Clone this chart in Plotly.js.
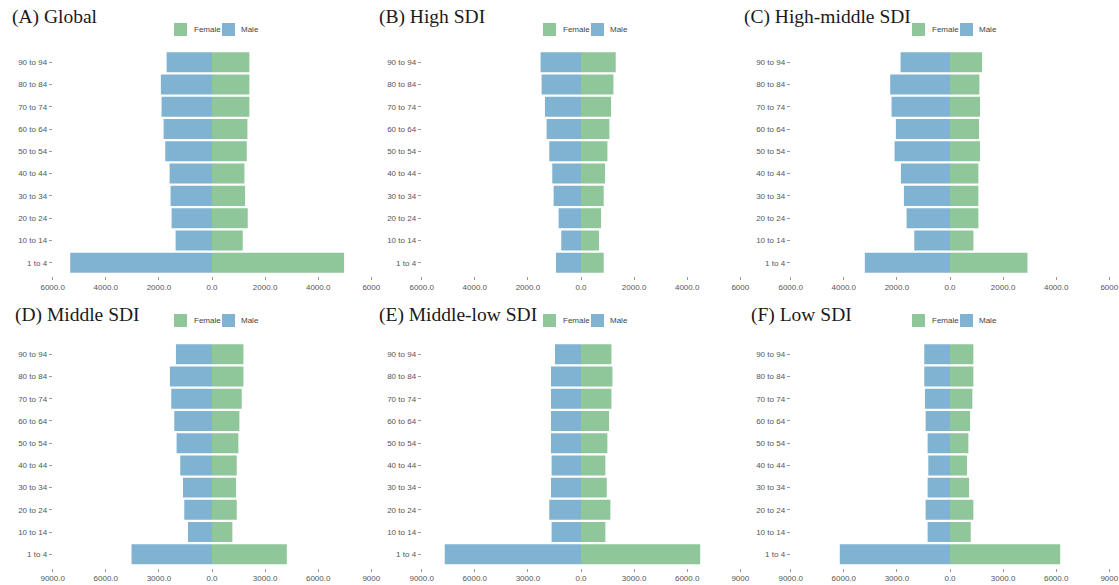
<!DOCTYPE html>
<html>
<head>
<meta charset="utf-8">
<script src="https://cdn.plot.ly/plotly-3.0.1.min.js"></script>
<style>
  html, body { margin: 0; padding: 0; background: #ffffff; }
  #chart { width: 1119px; height: 585px; }
</style>
</head>
<body>
<div id="chart"></div>
<script>
// ---------------- DATA ----------------
var ageGroups = ["1 to 4", "10 to 14", "20 to 24", "30 to 34", "40 to 44",
                 "50 to 54", "60 to 64", "70 to 74", "80 to 84", "90 to 94"];

var panelTitles = ["(A) Global", "(B) High SDI", "(C) High-middle SDI",
                   "(D) Middle SDI", "(E) Middle-low SDI", "(F) Low SDI"];

var seriesNames = ["Female", "Male"];

var globalMale   = [5340, 1371, 1522, 1560, 1597, 1761, 1823, 1900, 1925, 1710];
var globalFemale = [4975, 1157, 1346, 1245, 1220, 1308, 1333, 1408, 1408, 1408];

var highMale   = [943, 742, 843, 1031, 1082, 1195, 1296, 1358, 1484, 1522];
var highFemale = [855, 679, 755, 855, 906, 994, 1069, 1132, 1220, 1308];

var highMiddleMale   = [3208, 1346, 1635, 1736, 1849, 2088, 2038, 2201, 2252, 1862];
var highMiddleFemale = [2918, 881, 1069, 1069, 1069, 1132, 1094, 1132, 1107, 1208];

var middleMale   = [4547, 1358, 1566, 1641, 1792, 2000, 2132, 2302, 2377, 2038];
var middleFemale = [4226, 1151, 1396, 1358, 1396, 1490, 1547, 1679, 1774, 1774];

var middleLowMale   = [7698, 1660, 1792, 1698, 1660, 1698, 1698, 1698, 1698, 1472];
var middleLowFemale = [6735, 1377, 1660, 1453, 1377, 1490, 1585, 1717, 1774, 1717];

var lowMale   = [6226, 1264, 1377, 1264, 1226, 1264, 1377, 1415, 1453, 1453];
var lowFemale = [6226, 1170, 1321, 1075, 962, 1038, 1132, 1264, 1321, 1321];

var tickValsTop    = [-6000, -4000, -2000, 0, 2000, 4000, 6000];
var tickLabelsTop  = ["6000.0", "4000.0", "2000.0", "0.0", "2000.0", "4000.0", "6000"];
var tickValsBottom   = [-9000, -6000, -3000, 0, 3000, 6000, 9000];
var tickLabelsBottom = ["9000.0", "6000.0", "3000.0", "0.0", "3000.0", "6000.0", "9000"];

// ---------------- STYLE / LAYOUT ----------------
var W = 1119, H = 585;
var maleColor = "#80B2D1";
var femaleColor = "#8FC69A";
var tickFont = {family: "Liberation Sans, Arial, sans-serif", size: 8, color: "#555555"};

function fx(px) { return px / W; }
function fy(py) { return 1 - py / H; }

var panels = [
  {male: globalMale,     female: globalFemale,     zero: 212, half: 159.3, row: 0, ticks: 0, titleX: 10},
  {male: highMale,       female: highFemale,       zero: 581, half: 159.3, row: 0, ticks: 0, titleX: 376.5},
  {male: highMiddleMale, female: highMiddleFemale, zero: 950, half: 159.3, row: 0, ticks: 0, titleX: 741.5},
  {male: middleMale,     female: middleFemale,     zero: 212, half: 159.3, row: 1, ticks: 1, titleX: 12.5},
  {male: middleLowMale,  female: middleLowFemale,  zero: 581, half: 159.3, row: 1, ticks: 1, titleX: 377},
  {male: lowMale,        female: lowFemale,        zero: 950, half: 159.3, row: 1, ticks: 1, titleX: 749}
];

var rows = [
  {top: 48.8, bottom: 276.1, legendY: 29.5, titleY: 16.5},
  {top: 341.0, bottom: 567.6, legendY: 320.5, titleY: 314.8}
];

var traces = [];
var layout = {
  width: W, height: H,
  margin: {l: 0, r: 0, t: 0, b: 0},
  paper_bgcolor: "#ffffff",
  plot_bgcolor: "#ffffff",
  showlegend: false,
  barmode: "overlay",
  bargap: 0.1,
  shapes: [],
  annotations: []
};

panels.forEach(function (p, i) {
  var n = i + 1;
  var xa = "x" + (n === 1 ? "" : n);
  var ya = "y" + (n === 1 ? "" : n);
  var xKey = "xaxis" + (n === 1 ? "" : n);
  var yKey = "yaxis" + (n === 1 ? "" : n);
  var r = rows[p.row];
  var tv = p.ticks === 0 ? tickValsTop : tickValsBottom;
  var tl = p.ticks === 0 ? tickLabelsTop : tickLabelsBottom;
  var lim = tv[tv.length - 1];

  traces.push({
    type: "bar", orientation: "h", name: seriesNames[0],
    y: ageGroups, x: p.female,
    xaxis: xa, yaxis: ya,
    marker: {color: femaleColor, line: {width: 0}},
    hoverinfo: "x+y+name"
  });
  traces.push({
    type: "bar", orientation: "h", name: seriesNames[1],
    y: ageGroups, x: p.male.map(function (v) { return -v; }),
    xaxis: xa, yaxis: ya,
    marker: {color: maleColor, line: {width: 0}},
    hoverinfo: "y+name"
  });

  layout[xKey] = {
    domain: [fx(p.zero - p.half), fx(p.zero + p.half)],
    anchor: ya,
    range: [-lim, lim],
    tickmode: "array", tickvals: tv, ticktext: tl,
    showgrid: false, zeroline: false, showline: false,
    ticks: "outside", ticklen: 3, tickwidth: 1, tickcolor: "#9a9a9a",
    tickfont: tickFont,
    fixedrange: true
  };
  layout[yKey] = {
    domain: [fy(r.bottom), fy(r.top)],
    anchor: xa,
    type: "category",
    categoryorder: "array", categoryarray: ageGroups,
    range: [-0.6, 9.6],
    showgrid: false, zeroline: false, showline: false,
    ticks: "outside", ticklen: 3, tickwidth: 1, tickcolor: "#9a9a9a",
    tickfont: tickFont,
    fixedrange: true
  };

  // panel title
  layout.annotations.push({
    xref: "paper", yref: "paper",
    x: fx(p.titleX), y: fy(r.titleY),
    xanchor: "left", yanchor: "middle",
    text: panelTitles[i], showarrow: false,
    font: {family: "Liberation Serif, Times New Roman, serif", size: 19.5, color: "#1a1a1a"}
  });

  // legend (keys drawn per panel)
  var cy = r.legendY;
  var keys = [
    {name: seriesNames[0], color: femaleColor, x0: p.zero - 38, tx: p.zero - 20},
    {name: seriesNames[1], color: maleColor,   x0: p.zero + 10, tx: p.zero + 27}
  ];
  keys.forEach(function (k) {
    layout.shapes.push({
      type: "rect", xref: "paper", yref: "paper",
      x0: fx(k.x0), x1: fx(k.x0 + 13),
      y0: fy(cy + 6.5), y1: fy(cy - 6.5),
      fillcolor: k.color, line: {width: 0}
    });
    layout.annotations.push({
      xref: "paper", yref: "paper",
      x: fx(k.tx), y: fy(cy),
      xanchor: "left", yanchor: "middle",
      text: k.name, showarrow: false,
      font: {family: "Liberation Sans, Arial, sans-serif", size: 8, color: "#444444"}
    });
  });
});

Plotly.newPlot("chart", traces, layout, {displayModeBar: false, staticPlot: true});
</script>
</body>
</html>
